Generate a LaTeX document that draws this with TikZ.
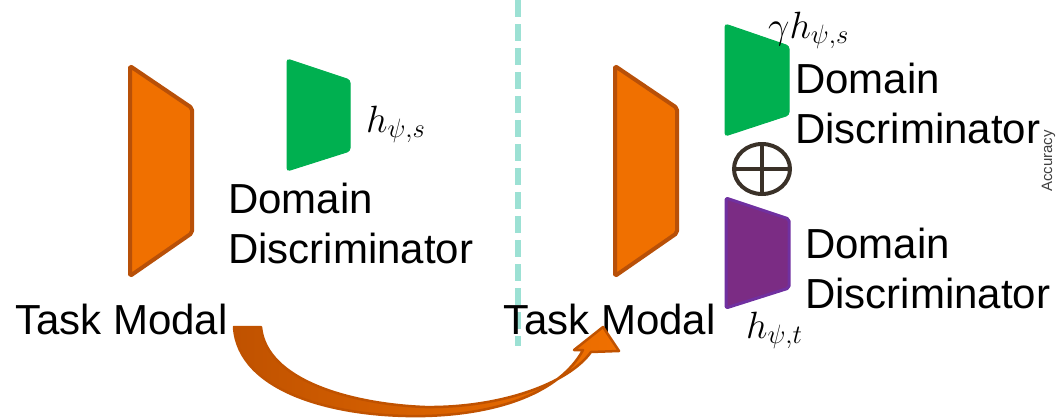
\RequirePackage{fix-cm}
\documentclass[tikz,border=0pt]{standalone}
\usepackage{fontspec}
\setmainfont{Liberation Sans}
\usetikzlibrary{calc}
\definecolor{modfill}{HTML}{F07000}
\definecolor{modline}{HTML}{B85008}
\definecolor{discgreen}{HTML}{00B050}
\definecolor{discpurple}{HTML}{7B2C84}
\definecolor{discpurpleline}{HTML}{7030A0}
\definecolor{divider}{HTML}{9CE1D4}
\definecolor{opcolor}{HTML}{3A3128}
\definecolor{arrowdark}{HTML}{C05200}
\tikzset{
  bigtext/.style={font=\fontsize{42}{50}\selectfont, inner sep=0pt, align=left},
  mathlabel/.style={font=\fontsize{38}{44}\selectfont, inner sep=0pt},
  modal/.style={fill=modfill, draw=modline, line width=4pt, line join=round, rounded corners=2pt},
  greenpart/.style={fill=discgreen, draw=discgreen, line width=1pt, rounded corners=3pt},
  purplepart/.style={fill=discpurple, draw=discpurpleline, line width=3pt, line join=round, rounded corners=2pt},
}
\begin{document}
\begin{tikzpicture}[x=1pt, y=-1pt]
\useasboundingbox (0,0) rectangle (1057,418);

% divider between the two settings
\draw[divider, line width=6pt, dash pattern=on 17pt off 7pt] (518,0) -- (518,346);

% ---- left: single source discriminator ----
\draw[modal] (130,66) -- (192,108) -- (192,233) -- (130,276) -- cycle;
\draw[greenpart] (287,59) -- (350,80) -- (350,151) -- (287,171) -- cycle;
\node[mathlabel, anchor=base west] (hsL) at (366,132) {$h_{\psi,s}$};
\node[bigtext, anchor=base west] (ddL) at (228,263) {Domain\\Discriminator};
\node[bigtext, anchor=base west] (tmL) at (15,334) {Task Modal};

% ---- right: combined discriminators ----
\draw[modal] (615,66) -- (677,108) -- (677,233) -- (615,276) -- cycle;
\draw[greenpart] (725,24) -- (789,46) -- (789,115) -- (725,136) -- cycle;
\node[mathlabel, anchor=base west] (hsR) at (768,38) {$\gamma h_{\psi,s}$};
\node[bigtext, anchor=base west] (ddR1) at (795,143) {Domain\\Discriminator};
\draw[opcolor, line width=4pt] (762,169) ellipse [x radius=28, y radius=25];
\draw[opcolor, line width=4pt] (734,169) -- (790,169) (762,144) -- (762,194);
\draw[purplepart] (726,198) -- (789,219) -- (789,288) -- (726,308) -- cycle;
\node[mathlabel, anchor=base west] (htR) at (746,338) {$h_{\psi,t}$};
\node[bigtext, anchor=base west] (ddR2) at (805,308) {Domain\\Discriminator};
\node[bigtext, anchor=base west] (tmR) at (503,334) {Task Modal};

% axis title at the right edge
\node[font=\fontsize{15}{18}\selectfont, text=black!75, rotate=90, anchor=base, inner sep=0pt] (acc) at (1052,161) {Accuracy};

% curved transfer arrow from the left task model to the right one
\fill[left color=arrowdark, right color=modfill, draw=arrowdark, line width=2.5pt, line join=round]
  (234,327) -- (261,327)
  .. controls (266,380) and (350,404) .. (425,407)
  .. controls (500,408) and (568,384) .. (591,352)
  -- (619,351) -- (603,327) -- (574,350) -- (583,350)
  .. controls (560,392) and (500,414) .. (425,416)
  .. controls (335,418) and (238,392) .. (234,327) -- cycle;
\end{tikzpicture}
\end{document}
